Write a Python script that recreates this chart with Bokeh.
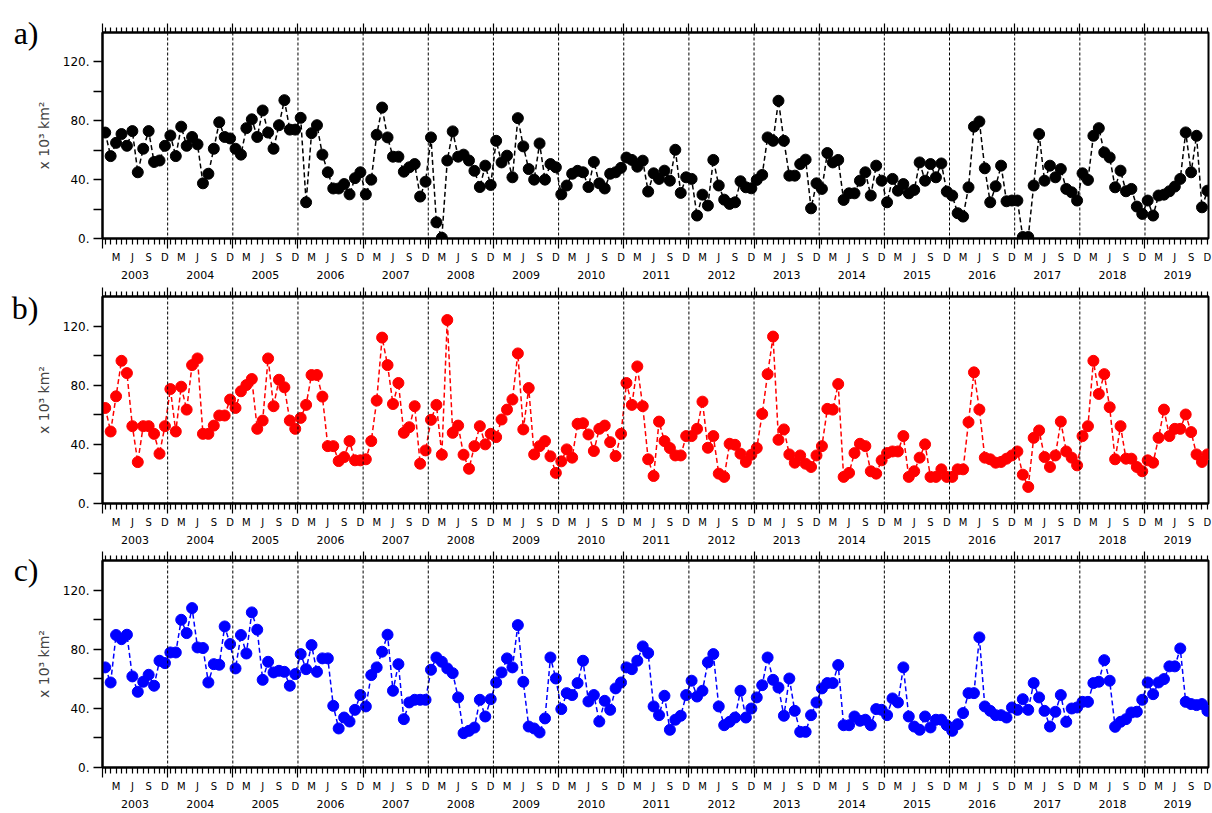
from bokeh.plotting import figure
from bokeh.models import Range1d, LinearAxis, FixedTicker, Span
from bokeh.layouts import column
from bokeh.embed import file_html
from bokeh.resources import INLINE

# ---------------- data ----------------
years = list(range(2003, 2020))
month_letters = ["", "", "M", "", "", "J", "", "", "S", "", "", "D"]
y_ticks = [0, 20, 40, 60, 80, 100, 120]
y_tick_labels = ["0.", "", "40.", "", "80.", "", "120."]
y_label = "x 10\u00b3 km\u00b2"
panel_tags = ["a)", "b)", "c)"]
colors = ["#000000", "#ff0000", "#0000ff"]

area_a = [
    72, 56, 65, 71, 63, 73, 45, 61, 73, 52, 53, 63,
    70, 56, 76, 63, 69, 64, 37.5, 44, 61, 79, 69, 68,
    61, 57, 75, 81, 69, 87, 72, 61, 77, 94, 74, 74,
    82, 24.6, 71.6, 77, 57, 45, 34, 34, 37, 30, 41, 45,
    30, 40, 70.5, 89, 68.7, 55.6, 55.6, 45.4, 48.4, 50.6, 28.5, 38.6,
    68.7, 11, 0.5, 53, 72.8, 55.6, 57, 53, 46, 35, 49.5, 36.4,
    66.4, 51.7, 56.3, 41.6, 81.8, 62.6, 47.2, 40, 64.6, 40, 50.6, 48.4,
    30, 36, 44, 46, 45, 35, 52, 37.5, 34, 44, 45, 48,
    55, 53.4, 48.8, 52.9, 31.9, 44.3, 40.5, 46.1, 39.3, 60.3, 31, 41.6,
    40.5, 15.6, 29.8, 22.4, 53.4, 36, 26.4, 23.5, 24.6, 38.9, 34.8, 34.1,
    39.8, 43.2, 68.7, 66.4, 93.6, 66.4, 42.7, 42.7, 50.6, 53.6, 20.5, 37.5,
    33.7, 58.1, 51.7, 53.4, 26.2, 30.7, 30.7, 39.3, 45, 29.2, 49.5, 39.3,
    24.6, 40.5, 32.5, 37, 30.7, 33, 51.7, 39.3, 50.6, 41.6, 51, 31.9,
    29.2, 17.2, 14.9, 34.8, 76, 79.5, 47.7, 24.6, 35.5, 49.5, 25.3, 25.8,
    25.8, 1, 1, 36, 71, 39.3, 49.5, 41.6, 47.2, 33.7, 31.4, 25.8,
    44.3, 39.8, 69.8, 75, 58.5, 55.1, 34.8, 46.1, 32.1, 33.7, 21.7, 16.7,
    25.8, 15.6, 29.2, 29.8, 32.1, 35.3, 40.5, 72.1, 45, 69.8, 21.2, 32.5,
]

area_b = [
    64.6, 48.7, 72.5, 96.5, 88.2, 52.3, 28, 52.3, 52.3, 47.1, 33.7, 52.3,
    77.4, 48.7, 79, 63.5, 93.6, 98.1, 47.1, 47.1, 52.7, 59.5, 59.5, 70.3,
    64.6, 75.9, 80.1, 84.2, 50.5, 56.1, 98.1, 65.8, 83.7, 78.6, 56.1, 50.5,
    57.9, 66.7, 86.9, 86.9, 72.3, 38.8, 38.8, 28.7, 31.4, 42.2, 29.2, 29.2,
    29.9, 42.2, 69.6, 112.2, 93.6, 67.3, 81.5, 47.8, 51.6, 65.8, 26.9, 35.9,
    56.6, 66.7, 33, 124.1, 47.8, 52.7, 33, 23.5, 38.8, 52.3, 40, 47.1,
    44.9, 56.8, 63.5, 70.3, 101.5, 50.1, 78.1, 33.2, 38.8, 42.2, 31.9, 20.7,
    28.5, 36.6, 31, 53.9, 54.3, 46.7, 35.5, 50.5, 52.7, 41.5, 32.1, 47.1,
    81.5, 66.7, 92.7, 65.8, 29.9, 18.6, 55.4, 42.2, 37.5, 32.5, 32.5, 45.6,
    45.6, 50.5, 68.9, 37.7, 45.6, 20.2, 18, 40.4, 39.7, 33.7, 28.1, 33,
    37.5, 60.6, 87.5, 112.9, 43.1, 50.1, 33.2, 27.6, 32.5, 26.9, 24.7, 32.5,
    38.8, 64, 63.5, 80.8, 18, 20.7, 34.1, 40.4, 38.8, 21.8, 20.2, 29.2,
    34.1, 35.2, 35.2, 45.6, 18, 21.8, 31, 40, 18, 18, 23.1, 18,
    18, 23.1, 23.1, 55, 88.7, 63.5, 31, 29.9, 27.6, 28.1, 30.3, 32.5,
    35.2, 19.5, 11.2, 44.4, 49.4, 31.4, 24.7, 32.5, 55.4, 35.2, 31, 25.8,
    45.6, 52.3, 96.5, 74.1, 87.5, 65.1, 29.9, 52.3, 30.3, 30.3, 24.7, 21.8,
    29.2, 27.6, 44.4, 63.5, 45.6, 50.5, 50.5, 60.2, 48.3, 33.2, 28.1, 33.2,
]

area_c = [
    67.7, 57.5, 89.6, 86.8, 89.8, 61.6, 51.2, 58, 62.7, 55.3, 72.2, 70.6,
    77.8, 77.8, 99.9, 90.9, 107.8, 81.2, 80.8, 57.5, 69.9, 69.5, 95.4, 83.5,
    67, 89.6, 77.1, 104.9, 93.2, 59.3, 71.5, 64.3, 65.4, 64.7, 55.3, 63.2,
    76.7, 66.5, 82.8, 64.7, 73.8, 73.8, 41.7, 26.4, 33.8, 31.1, 39, 49,
    41.3, 62.5, 67.7, 78.3, 89.8, 51.9, 69.9, 32.7, 44, 45.8, 45.8, 45.8,
    66.1, 74.4, 71.5, 67, 63.8, 47.4, 23.2, 24.8, 27, 45.8, 34.5, 46.2,
    57.5, 64.3, 73.8, 67.7, 96.3, 58, 27.7, 26.4, 23.7, 33.2, 74.4, 60.2,
    39.5, 50.3, 49, 57.1, 72.2, 44.7, 49, 31.1, 45.1, 39, 53.5, 57.5,
    67.7, 66.5, 72.2, 81.9, 77.4, 41.3, 35.4, 48.5, 25.5, 32.3, 35, 49,
    58.7, 48, 51.9, 71.1, 76.7, 41.3, 28.6, 30.9, 33.8, 51.9, 33.8, 39.9,
    47.4, 55.7, 74.4, 59.3, 54.1, 35, 60.2, 38.3, 24.1, 24.1, 35.4, 44,
    53.5, 57.1, 57.1, 69.3, 28.6, 28.6, 34.5, 31.6, 32.3, 28.6, 39.5, 39,
    35.4, 46.7, 44, 67.7, 34.5, 27.7, 25.5, 34.5, 27.1, 32.3, 32.3, 28.6,
    24.8, 29.3, 36.8, 50.3, 50.3, 88, 41.3, 38.3, 35.4, 35.4, 33.8, 40.6,
    39, 46.2, 39, 57.1, 47.4, 38.3, 27.7, 37.7, 49, 30.9, 39.9, 40.6,
    44.4, 44.4, 57.1, 58, 72.6, 58.7, 27.5, 30.9, 32.7, 37.2, 37.7, 45.8,
    57.5, 49.6, 57.5, 59.8, 68.4, 68.4, 80.5, 44.4, 42.9, 42.2, 42.9, 38.3,
]

# ---------------- derived ticks ----------------
months = list(range(len(years) * 12))
year_bounds = [12 * k - 0.5 for k in range(len(years) + 1)]
inner_bounds = year_bounds[1:-1]
X0, X1 = -0.5, 203.2
YR0 = years[0] + (X0 - 5.5) / 12.0
YR1 = years[0] + (X1 - 5.5) / 12.0

month_overrides = {m: month_letters[m % 12] for m in months}
blank_overrides = {m: "" for m in months}
year_overrides = {y: str(y) for y in years}
y_overrides = dict(zip(y_ticks, y_tick_labels))

FONT = "DejaVu Sans"


def panel(vals, color, tag, tag_pos, top, frame_h, bottom):
    p = figure(width=1212, height=top + frame_h + bottom,
               x_range=Range1d(X0, X1), y_range=Range1d(0, 140),
               x_axis_type=None, y_axis_type=None,
               output_backend="svg", toolbar_location=None,
               min_border_left=102, min_border_right=4,
               min_border_top=top, min_border_bottom=bottom)
    p.outline_line_color = "black"
    p.outline_line_width = 2
    p.background_fill_color = "white"
    p.border_fill_color = "white"
    p.extra_x_ranges = {"yr": Range1d(YR0, YR1)}
    p.extra_y_ranges = {"tag": Range1d(0, 1000)}

    # left axis
    ya = LinearAxis(ticker=FixedTicker(ticks=y_ticks))
    ya.major_label_overrides = y_overrides
    ya.major_tick_out = 9
    ya.major_tick_in = 0
    ya.minor_tick_out = 0
    ya.major_tick_line_width = 1.5
    ya.axis_line_width = 2
    ya.major_label_standoff = 4
    ya.major_label_text_font = FONT
    ya.major_label_text_font_size = "12px"
    ya.major_label_text_color = "black"
    ya.axis_label = y_label
    ya.axis_label_text_font = FONT
    ya.axis_label_text_font_size = "14px"
    ya.axis_label_text_font_style = "normal"
    ya.axis_label_standoff = 8
    p.add_layout(ya, "left")

    # panel tag, drawn as the label of an outer, line-less axis
    tg = LinearAxis(y_range_name="tag", ticker=FixedTicker(ticks=[tag_pos]))
    tg.major_label_overrides = {tag_pos: tag}
    tg.axis_line_color = None
    tg.major_tick_line_color = None
    tg.minor_tick_line_color = None
    tg.major_tick_out = 0
    tg.major_tick_in = 0
    tg.minor_tick_out = 0
    tg.major_label_standoff = -6
    tg.major_label_text_font = "Liberation Serif"
    tg.major_label_text_font_size = "32px"
    tg.major_label_text_color = "black"
    p.add_layout(tg, "left")

    # bottom axis: month ticks + letters, long ticks at year bounds
    xa = LinearAxis(ticker=FixedTicker(ticks=months, minor_ticks=year_bounds))
    xa.major_label_overrides = month_overrides
    xa.major_tick_out = 6
    xa.major_tick_in = 0
    xa.minor_tick_out = 10
    xa.minor_tick_in = 0
    xa.major_tick_line_width = 1.2
    xa.minor_tick_line_width = 1.2
    xa.axis_line_width = 2
    xa.major_label_standoff = 3
    xa.major_label_text_font = FONT
    xa.major_label_text_font_size = "10px"
    xa.major_label_text_color = "black"
    p.add_layout(xa, "below")

    # year labels
    ya2 = LinearAxis(x_range_name="yr", ticker=FixedTicker(ticks=years))
    ya2.major_label_overrides = year_overrides
    ya2.major_tick_out = 0
    ya2.major_tick_in = 0
    ya2.minor_tick_out = 0
    ya2.major_tick_line_color = None
    ya2.minor_tick_line_color = None
    ya2.axis_line_color = None
    ya2.major_label_standoff = 5
    ya2.major_label_text_font = FONT
    ya2.major_label_text_font_size = "11px"
    ya2.major_label_text_color = "black"
    p.add_layout(ya2, "below")

    # top axis (ticks only)
    ta = LinearAxis(ticker=FixedTicker(ticks=months, minor_ticks=year_bounds))
    ta.major_label_overrides = blank_overrides
    ta.major_label_text_font_size = "1px"
    ta.major_label_standoff = 0
    ta.major_tick_out = 5
    ta.major_tick_in = 0
    ta.minor_tick_out = 9
    ta.minor_tick_in = 0
    ta.major_tick_line_width = 1.2
    ta.minor_tick_line_width = 1.2
    ta.axis_line_width = 2
    p.add_layout(ta, "above")

    for b in inner_bounds:
        p.add_layout(Span(location=b, dimension="height", line_color="black",
                          line_width=1, line_dash="3 2"))

    p.line(months, vals, line_color=color, line_width=1.5, line_dash="5 3")
    p.scatter(months, vals, marker="circle", size=11, fill_color=color,
              line_color=color)
    return p


pa = panel(area_a, colors[0], panel_tags[0], 999, top=32, frame_h=206, bottom=46)
pb = panel(area_b, colors[1], panel_tags[1], 999, top=12, frame_h=207, bottom=46)
pc = panel(area_c, colors[2], panel_tags[2], 976, top=11, frame_h=207, bottom=45)

layout = column(pa, pb, pc)
open("out.html", "w").write(file_html(layout, INLINE))
